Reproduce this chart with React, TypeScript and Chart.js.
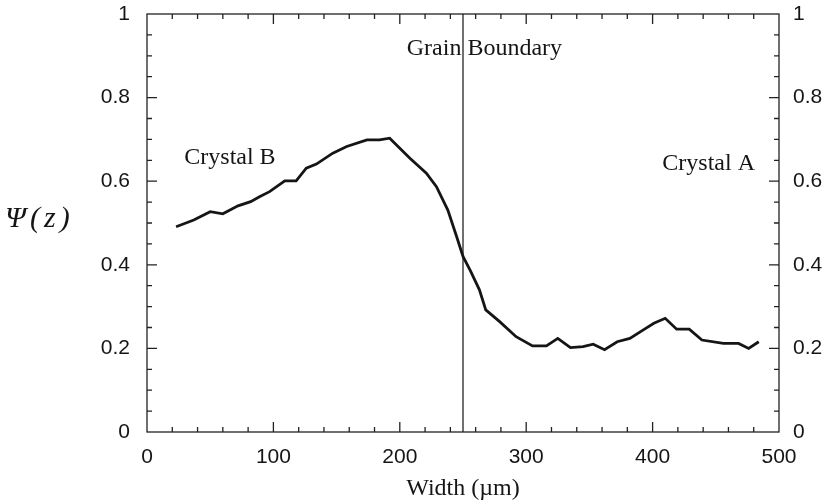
import React, { useEffect, useRef } from "react";
import { Chart, registerables } from "chart.js";

Chart.register(...registerables);

// Width positions (µm) and order parameter Ψ(z)
const widths = [23, 37, 50, 60, 72, 82, 89, 97, 109, 118, 126, 134, 147, 158, 174, 184, 192, 208, 221, 229, 238, 245, 250, 256, 263, 268, 279, 292, 305, 316, 325, 335, 345, 353, 362, 372, 382, 393, 401, 410, 419, 429, 439, 456, 468, 476, 484];
const psi = [0.491, 0.507, 0.527, 0.522, 0.541, 0.551, 0.563, 0.575, 0.601, 0.601, 0.631, 0.641, 0.667, 0.683, 0.699, 0.699, 0.703, 0.655, 0.619, 0.587, 0.531, 0.467, 0.42, 0.385, 0.34, 0.292, 0.264, 0.228, 0.206, 0.206, 0.224, 0.202, 0.204, 0.21, 0.197, 0.216, 0.224, 0.245, 0.26, 0.272, 0.246, 0.246, 0.22, 0.212, 0.212, 0.2, 0.216];

// Grain boundary position
const boundaryX = [250, 250];
const boundaryY = [0, 1];

const xTickLabels = ["0", "100", "200", "300", "400", "500"];
const yTickLabels = ["0", "0.2", "0.4", "0.6", "0.8", "1"];

const annotations = [
  { text: "Crystal B", x: 29.5, y: 0.64, align: "left" },
  { text: "Crystal A", x: 481, y: 0.627, align: "right" },
  { text: "Grain Boundary", x: 205.5, y: 0.902, align: "left" },
];

const SERIF = '"Liberation Serif", "Times New Roman", serif';
const SANS = '"Liberation Sans", Arial, sans-serif';
const INK = "#151515";

const framePlugin = {
  id: "frameTicks",
  afterDraw(chart: any) {
    const { ctx, chartArea: a, scales } = chart;
    const xs = scales.x;
    const ys = scales.y;
    ctx.save();
    ctx.strokeStyle = "#222";
    ctx.lineWidth = 1.3;
    ctx.strokeRect(a.left, a.top, a.right - a.left, a.bottom - a.top);
    ctx.beginPath();
    for (let v = 20; v < 500; v += 20) {
      const px = xs.getPixelForValue(v);
      const len = v % 100 === 0 ? 10 : 5;
      ctx.moveTo(px, a.bottom);
      ctx.lineTo(px, a.bottom - len);
      ctx.moveTo(px, a.top);
      ctx.lineTo(px, a.top + len);
    }
    for (let i = 1; i < 20; i++) {
      const v = i * 0.05;
      const py = ys.getPixelForValue(v);
      const len = i % 4 === 0 ? 10 : 5;
      ctx.moveTo(a.left, py);
      ctx.lineTo(a.left + len, py);
      ctx.moveTo(a.right, py);
      ctx.lineTo(a.right - len, py);
    }
    ctx.stroke();

    ctx.fillStyle = INK;
    ctx.font = `24px ${SERIF}`;
    ctx.textBaseline = "alphabetic";
    for (const an of annotations) {
      ctx.textAlign = an.align as CanvasTextAlign;
      ctx.fillText(an.text, xs.getPixelForValue(an.x), ys.getPixelForValue(an.y));
    }
    ctx.textAlign = "left";
    ctx.font = `italic 30px ${SERIF}`;
    (ctx as any).letterSpacing = "4px";
    ctx.fillText("Ψ(z)", 5, ys.getPixelForValue(0.49));
    ctx.restore();
  },
};

const noPadY = (w: number) => (s: any) => {
  s.width = w;
  s.paddingTop = 0;
  s.paddingBottom = 0;
};

export default function App() {
  const ref = useRef<HTMLCanvasElement>(null);
  useEffect(() => {
    if (!ref.current) return;
    const chart = new Chart(ref.current, {
      type: "scatter",
      data: {
        datasets: [
          {
            data: widths.map((w, i) => ({ x: w, y: psi[i] })),
            showLine: true,
            borderColor: INK,
            borderWidth: 2.8,
            pointRadius: 0,
            tension: 0,
          },
          {
            data: boundaryX.map((w, i) => ({ x: w, y: boundaryY[i] })),
            showLine: true,
            borderColor: "#333",
            borderWidth: 1.4,
            pointRadius: 0,
          },
        ],
      },
      plugins: [framePlugin],
      options: {
        responsive: false,
        animation: false,
        layout: { padding: { top: 14, left: 0, right: 0, bottom: 0 } },
        plugins: { legend: { display: false }, tooltip: { enabled: false } },
        scales: {
          x: {
            type: "linear",
            min: 0,
            max: 500,
            grid: { display: false, drawTicks: false },
            border: { display: false },
            ticks: {
              stepSize: 100,
              padding: 13,
              color: INK,
              font: { family: SANS, size: 21 },
              maxRotation: 0,
              callback: (_v: any, i: number) => xTickLabels[i],
            },
            title: {
              display: true,
              text: "Width (µm)",
              color: INK,
              font: { family: SERIF, size: 24 },
              padding: { top: 0, bottom: 1 },
            },
            afterFit: (s: any) => {
              s.height = 72;
              s.paddingLeft = 0;
              s.paddingRight = 0;
            },
          },
          y: {
            type: "linear",
            position: "left",
            min: 0,
            max: 1,
            grid: { display: false, drawTicks: false },
            border: { display: false },
            ticks: {
              stepSize: 0.2,
              padding: 17,
              color: INK,
              font: { family: SANS, size: 21 },
              callback: (_v: any, i: number) => yTickLabels[i],
            },
            afterFit: noPadY(147),
          },
          y2: {
            type: "linear",
            position: "right",
            min: 0,
            max: 1,
            grid: { display: false, drawTicks: false },
            border: { display: false },
            ticks: {
              stepSize: 0.2,
              padding: 14,
              color: INK,
              font: { family: SANS, size: 21 },
              callback: (_v: any, i: number) => yTickLabels[i],
            },
            afterFit: noPadY(50),
          },
        },
      },
    });
    return () => chart.destroy();
  }, []);
  return (
    <div style={{ position: "fixed", left: 0, top: 0, width: 829, height: 504, background: "#fff" }}>
      <canvas ref={ref} width={829} height={504} />
    </div>
  );
}
